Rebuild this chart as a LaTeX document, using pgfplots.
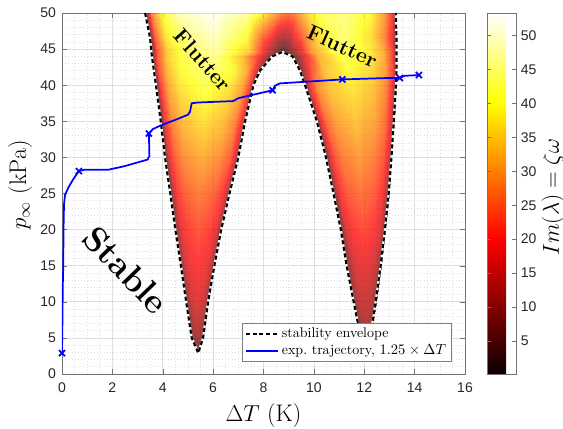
\documentclass[border=0pt]{standalone}
\usepackage{fontspec}
\setsansfont{Liberation Sans}
\usepackage{pgfplots}
\pgfplotsset{compat=1.18}
\usepackage{pgfplotstable}

% flutter region mesh: 14 rows x 19 columns (left lobe 9, gap 1, right lobe 9)
\pgfplotstableread{
x y c
5.41 2.9 3
5.41 2.9 3
5.41 2.9 3
5.41 2.9 3
5.41 2.9 3
5.41 2.9 3
5.41 2.9 3
5.41 2.9 3
5.41 2.9 3
nan nan nan
12.05 3.5 3
12.05 3.5 3
12.05 3.5 3
12.05 3.5 3
12.05 3.5 3
12.05 3.5 3
12.05 3.5 3
12.05 3.5 3
12.05 3.5 3
5.15 5 1.1
5.17 5 5.5
5.20 5 8.3
5.26 5 9.9
5.38 5 11
5.49 5 9.9
5.55 5 8.3
5.58 5 5.5
5.60 5 1.1
nan nan nan
11.72 7.5 1.3
11.745 7.5 6.5
11.796 7.5 9.8
11.878 7.5 11.7
12.035 7.5 13
12.193 7.5 11.7
12.274 7.5 9.8
12.325 7.5 6.5
12.35 7.5 1.3
4.93 10 1.7
4.965 10 8.5
5.034 10 12.8
5.148 10 15.3
5.365 10 17
5.583 10 15.3
5.696 10 12.8
5.765 10 8.5
5.8 10 1.7
nan nan nan
11.58 10 1.5
11.615 10 7.5
11.684 10 11.3
11.798 10 13.5
12.015 10 15
12.233 10 13.5
12.346 10 11.3
12.415 10 7.5
12.45 10 1.5
4.72 15 2
4.773 15 10
4.880 15 15
5.053 15 18
5.385 15 20
5.718 15 18
5.890 15 15
5.997 15 10
6.05 15 2
nan nan nan
11.3 15 1.8
11.354 15 9
11.462 15 13.5
11.638 15 16.2
11.975 15 18
12.313 15 16.2
12.488 15 13.5
12.596 15 9
12.65 15 1.8
4.5 20 2.3
4.573 20 11.5
4.718 20 17.3
4.955 20 20.7
5.41 20 23
5.865 20 20.7
6.102 20 17.3
6.247 20 11.5
6.32 20 2.3
nan nan nan
11.07 20 2.2
11.14 20 11
11.28 20 16.5
11.508 20 19.8
11.945 20 22
12.383 20 19.8
12.61 20 16.5
12.75 20 11
12.82 20 2.2
4.3 25 2.7
4.394 25 13.5
4.582 25 20.3
4.888 25 24.3
5.475 25 27
6.063 25 24.3
6.368 25 20.3
6.556 25 13.5
6.65 25 2.7
nan nan nan
10.78 25 2.6
10.868 25 13
11.043 25 19.5
11.328 25 23.4
11.875 25 26
12.423 25 23.4
12.707 25 19.5
12.882 25 13
12.97 25 2.6
4.09 30 3.2
4.206 30 16
4.439 30 24
4.818 30 28.8
5.545 30 32
6.273 30 28.8
6.651 30 24
6.884 30 16
7.0 30 3.2
nan nan nan
10.48 30 3
10.584 30 15
10.792 30 22.5
11.13 30 27
11.78 30 30
12.43 30 27
12.768 30 22.5
12.976 30 15
13.08 30 3
3.92 35 3.7
4.054 35 18.5
4.322 35 27.8
4.758 35 33.3
5.595 35 37
6.433 35 33.3
6.868 35 27.8
7.136 35 18.5
7.27 35 3.7
nan nan nan
10.12 35 3.4
10.242 35 17
10.486 35 25.5
10.883 35 30.6
11.645 35 34
12.408 35 30.6
12.804 35 25.5
13.048 35 17
13.17 35 3.4
3.73 40 4.2
3.885 40 21
4.194 40 31.5
4.698 40 37.8
5.665 40 42
6.633 40 37.8
7.136 40 31.5
7.445 40 21
7.6 40 4.2
nan nan nan
9.65 40 3.8
9.794 40 19
10.083 40 28.5
10.553 40 34.2
11.455 40 38
12.358 40 34.2
12.827 40 28.5
13.116 40 19
13.26 40 3.8
3.65 42 4.4
3.818 42 22
4.154 42 33
4.7 42 39.6
5.75 42 44
6.8 42 39.6
7.346 42 31
7.682 42 18
7.85 42 4.4
nan nan nan
9.45 42 3.5
9.603 42 12
9.91 42 24
10.408 42 34
11.365 42 40
12.323 42 36
12.82 42 30
13.127 42 20
13.28 42 4
3.57 44 4.6
3.761 44 23
4.144 44 34.5
4.765 44 41.4
5.96 44 46
7.155 44 34
7.776 44 20
8.159 44 9
8.35 44 3
nan nan nan
9.15 44 3
9.315 44 8
9.646 44 18
10.183 44 32
11.215 44 42
12.248 44 37.8
12.784 44 31.5
13.115 44 21
13.28 44 4.2
3.55 44.6 4.6
3.758 44.6 23
4.174 44.6 35
4.85 44.6 42
6.15 44.6 47
7.45 44.6 34
8.126 44.6 15
8.542 44.6 6
8.75 44.6 2
8.75 44.6 2
8.75 44.6 2
8.931 44.6 5
9.294 44.6 12
9.883 44.6 30
11.015 44.6 43
12.148 44.6 38.7
12.736 44.6 32
13.099 44.6 21.5
13.28 44.6 4.3
3.5 46.5 4.7
3.702 46.5 24
4.106 46.5 37
4.763 46.5 44
6.025 46.5 49
7.288 46.5 40
7.944 46.5 25
8.348 46.5 18
8.55 46.5 13
8.8 46.5 11
9.05 46.5 13
9.219 46.5 18
9.558 46.5 25
10.108 46.5 36
11.165 46.5 44
12.223 46.5 37
12.772 46.5 28
13.111 46.5 18
13.28 46.5 4
3.3 50 5
3.518 50 27
3.954 50 40
4.663 50 48
6.025 50 53
7.388 50 46
8.096 50 36
8.532 50 30
8.75 50 27
9.0 50 26
9.25 50 28
9.41 50 31
9.73 50 36
10.25 50 42
11.25 50 45
12.25 50 39
12.77 50 30
13.09 50 20
13.25 50 4.5
}\surfdata

\pgfplotstableread{
x y
3.3 50
3.5 46.5
3.55 44.6
3.57 44
3.65 42
3.73 40
3.92 35
4.09 30
4.3 25
4.5 20
4.72 15
4.93 10
5.15 5
5.41 2.9
5.6 5
5.8 10
6.05 15
6.32 20
6.65 25
7.0 30
7.27 35
7.6 40
7.85 42
8.35 44
8.75 44.6
9.15 44
9.45 42
9.65 40
10.12 35
10.48 30
10.78 25
11.07 20
11.3 15
11.58 10
11.72 7.5
12.05 3.5
12.35 7.5
12.45 10
12.65 15
12.82 20
12.97 25
13.08 30
13.17 35
13.26 40
13.28 42
13.28 44
13.28 46.5
13.25 50
}\envelope

\pgfplotstableread{
x y
0 2.9
0.02 8
0.03 12
0.05 15
0.06 20
0.08 23.5
0.12 24.8
0.25 25.8
0.45 27
0.67 28.1
0.9 28.3
1.85 28.3
2.5 28.8
3.4 29.7
3.47 30.2
3.45 33.3
3.6 33.9
3.9 34.4
4.5 35.2
5.0 35.9
5.08 36.3
5.15 37.5
5.4 37.6
6.8 37.8
7.0 38.2
8.36 39.3
8.45 39.9
8.65 40.25
11.13 40.8
13.0 41.0
13.41 41.0
13.6 41.3
14.17 41.4
}\traj

\pgfplotstableread{
x y
0 2.9
0.67 28.1
3.45 33.3
8.36 39.3
11.13 40.8
13.41 41.0
14.17 41.4
}\trajmarks

\begin{document}
\begin{tikzpicture}
\begin{axis}[
  set layers,
  scale only axis,
  width=302.25pt, height=270.75pt,
  xmin=0, xmax=16, ymin=0, ymax=50,
  xtick={0,2,...,16}, ytick={0,5,...,50},
  minor x tick num=3, minor y tick num=4,
  grid=both,
  major grid style={gray!25, line width=0.5pt},
  minor grid style={gray!25, dotted, line width=0.45pt},
  tick align=inside, major tick length=3.5pt, minor tick length=0pt,
  axis line style={black!55}, tick style={black!55},
  /pgf/number format/assume math mode=true,
  tick label style={font=\fontsize{10.5}{12}\selectfont\sffamily, text=black!85},
  xticklabel style={yshift=-3pt},
  yticklabel style={xshift=-1pt},
  xlabel={$\Delta T$ (K)},
  ylabel={$p_\infty$ (kPa)},
  label style={font=\fontsize{18}{20}\selectfont},
  xlabel style={at={(axis description cs:0.5,-0.114)}, anchor=center},
  ylabel style={at={(axis description cs:-0.104,0.524)}, anchor=center},
  colormap={mhot}{rgb(0cm)=(0.0416,0,0); rgb(3cm)=(1,0,0); rgb(6cm)=(1,1,0); rgb(8cm)=(1,1,1)},
  point meta min=0.15, point meta max=53.3,
  colorbar,
  colorbar style={
    at={(parent axis.north east)}, anchor=north west, xshift=8pt,
    scale only axis, width=21.75pt, height=270.75pt,
    ytick={5,10,...,50},
    tick align=inside, major tick length=3pt,
    axis line style={black!55}, tick style={black!55},
    /pgf/number format/assume math mode=true,
    yticklabel style={font=\fontsize{10.5}{12}\selectfont\sffamily, text=black!85},
    ylabel={$Im(\lambda)=\zeta\omega$},
    ylabel style={font=\fontsize{18}{20}\selectfont, at={(axis description cs:2.28,0.49)}, anchor=center},
  },
  legend style={at={(0.967,0.034)}, anchor=south east, draw=black!50, fill=white,
    font=\fontsize{10.5}{12.5}\selectfont, inner xsep=2pt, inner ysep=1.5pt, row sep=0pt,
    cells={anchor=west}},
  legend image code/.code={\draw[#1] (0pt,0pt) -- (24pt,0pt);},
]
\addplot[surf, shader=interp, mesh/cols=19, mesh/rows=14, point meta=explicit,
  unbounded coords=jump, opacity=0.76, forget plot]
  table[x=x, y=y, meta=c] {\surfdata};
\addplot[white, line width=1.6pt, forget plot] table[x=x,y=y] {\envelope};
\addplot[black, line width=1.6pt, dash pattern=on 3pt off 2pt] table[x=x,y=y] {\envelope};
\addlegendentry{stability envelope}
\addplot[blue, line width=1.3pt] table[x=x,y=y] {\traj};
\addlegendentry{exp.\ trajectory, $1.25\times\Delta T$}
\addplot[blue, only marks, mark=x, mark size=3.2pt, line width=1.3pt, forget plot] table[x=x,y=y] {\trajmarks};
\node[rotate=-48.5, font=\fontsize{16}{16}\selectfont\bfseries] at (axis cs:5.6,43.5) {Flutter};
\node[rotate=-24, font=\fontsize{16}{16}\selectfont\bfseries] at (axis cs:11.13,45.4) {Flutter};
\node[rotate=-46, font=\fontsize{26}{26}\selectfont\bfseries] at (axis cs:2.54,14.4) {Stable};
\end{axis}
\pgfresetboundingbox
\path ([xshift=-46.5pt,yshift=-41.25pt]current axis.south west) rectangle ([xshift=73.5pt,yshift=9.75pt]current axis.north east);
\end{tikzpicture}
\end{document}
